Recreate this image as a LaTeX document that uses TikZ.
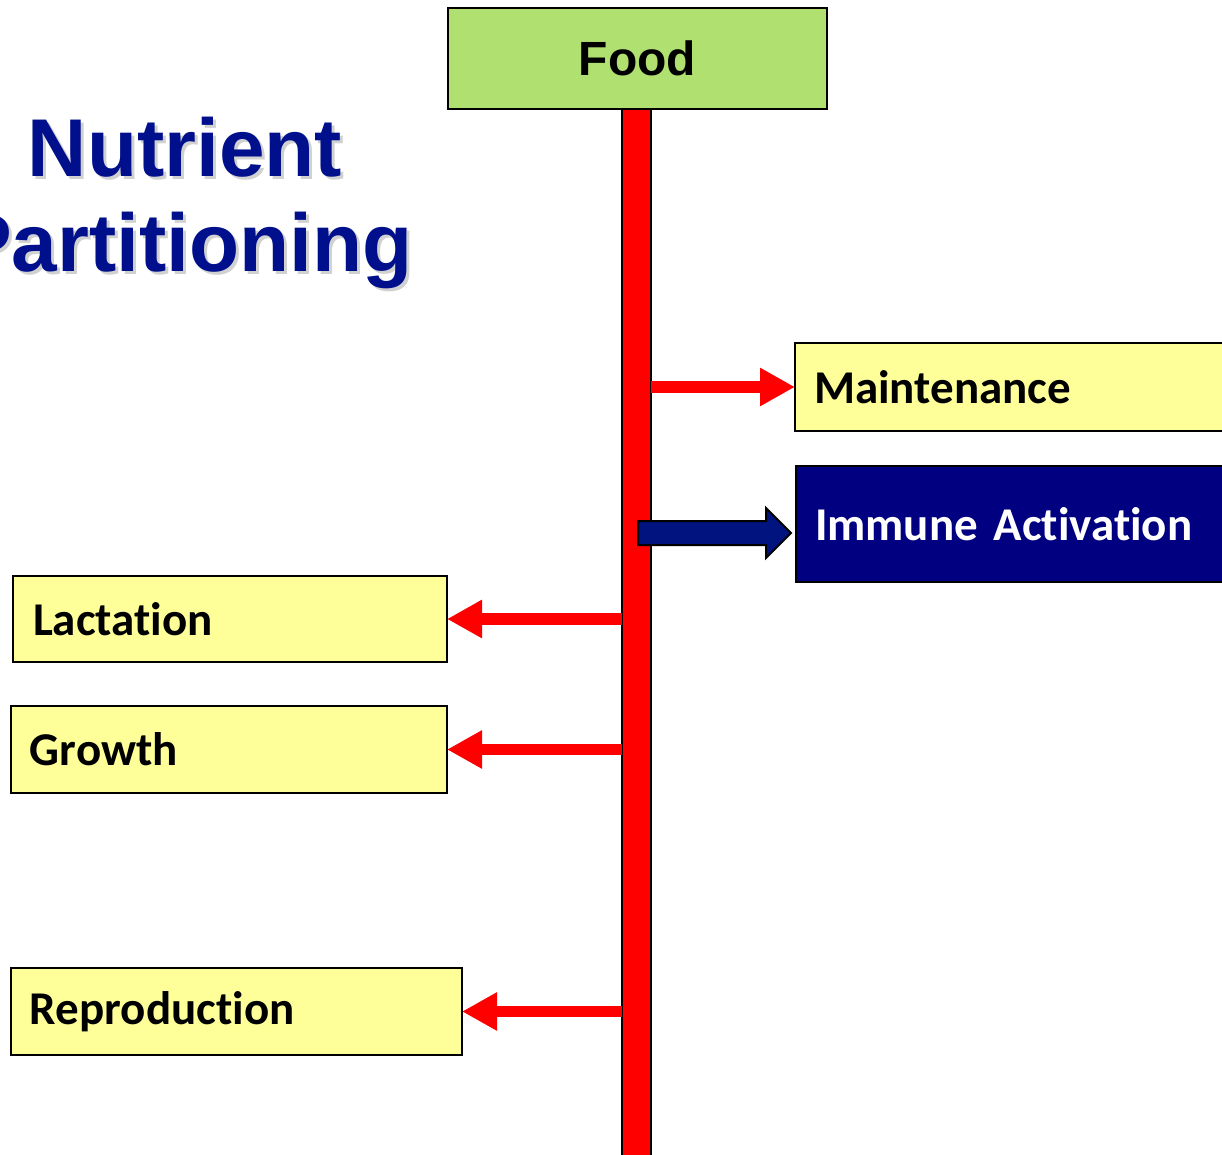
\documentclass[tikz,border=0pt]{standalone}
\usepackage{fontspec}
\setmainfont{Liberation Sans}
\newfontfamily\calib{Carlito}[Ligatures={NoCommon}]
\usetikzlibrary{arrows.meta}
\definecolor{foodgreen}{HTML}{B0E170}
\definecolor{paleyellow}{HTML}{FFFF99}
\definecolor{boxnavy}{HTML}{000080}
\definecolor{arrownavy}{HTML}{00137F}
\definecolor{titleblue}{HTML}{00108C}
\begin{document}
\begin{tikzpicture}[x=0.5pt,y=-0.5pt,
  box/.style={draw=black, line width=1pt, inner ysep=0pt, outer sep=0pt, anchor=north west, align=left},
  label/.style={font=\calib\fontsize{23.5}{28}\selectfont\bfseries},
  titletext/.style={font=\fontsize{41}{48}\selectfont\bfseries, text=titleblue, inner sep=0pt, anchor=base},
  titleshadow/.style={font=\fontsize{41}{48}\selectfont\bfseries, text=black, opacity=0.18, inner sep=0pt, anchor=base},
  redarrow/.style={draw=red, line width=5.85pt, -{Triangle[length=17.5pt, width=18pt]}},
  navyarrow/.style={fill=arrownavy, draw=black, line width=1pt, line join=miter}
]
\useasboundingbox (0,0) rectangle (1222,1155);
\clip (0,0) rectangle (1222,1155);

% title with soft shadow
\node[titleshadow] (t1s) at (188,180) {Nutrient};
\node[titleshadow] (t2s) at (188,275) {Partitioning};
\node[titletext] (t1) at (185,177) {Nutrient};
\node[titletext] (t2) at (185,272) {Partitioning};

% food box
\node[draw=black, line width=1pt, fill=foodgreen, minimum width=189.5pt, minimum height=50.5pt,
      inner sep=0pt, outer sep=0pt, anchor=north west,
      font=\fontsize{24}{28}\selectfont\bfseries] (food) at (448,8) {Food};

% red trunk
\node[draw=black, line width=1pt, fill=red, minimum width=14.5pt, minimum height=540pt,
      inner sep=0pt, outer sep=0pt, anchor=north] (bar) at (636.5,109) {};

% right boxes
\node[box, label, fill=paleyellow, text width=203.5pt, inner xsep=9.5pt, minimum height=44pt] (maint) at (795,343) {Maintenance};
\node[box, label, fill=boxnavy, text=white, text width=203pt, inner xsep=9.5pt, minimum height=58pt] (imm) at (796,466) {Immune Activation};

% left boxes
\node[box, label, fill=paleyellow, text width=197pt, inner xsep=10pt, minimum height=43pt] (lact) at (13,576) {Lactation};
\node[box, label, fill=paleyellow, text width=199pt, inner xsep=9.5pt, minimum height=43.5pt] (grow) at (11,706) {Growth};
\node[box, label, fill=paleyellow, text width=206.5pt, inner xsep=9.5pt, minimum height=43.5pt] (repro) at (11,968) {Reproduction};

% arrows
\draw[redarrow] (bar.east |- maint.west) -- (maint.west);
\draw[redarrow] (bar.west |- lact.east) -- (lact.east);
\draw[redarrow] (bar.west |- grow.east) -- (grow.east);
\draw[redarrow] (bar.west |- repro.east) -- (repro.east);

% navy block arrow into immune activation
\draw[navyarrow] ([xshift=-2.5pt,yshift=-4.5pt]imm.west) -- ++(-25,-25) -- ++(0,13) -- ++(-128,0)
  -- ++(0,24) -- ++(128,0) -- ++(0,13) -- cycle;
\end{tikzpicture}
\end{document}
